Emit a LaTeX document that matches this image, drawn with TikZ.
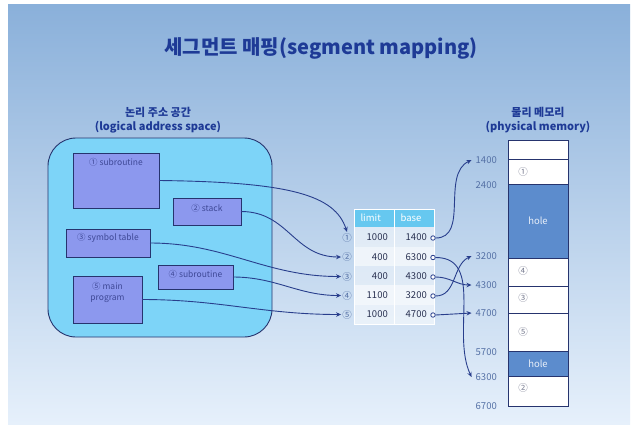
\documentclass[tikz,border=0pt]{standalone}
\usepackage{fontspec}
\setmainfont{Noto Sans CJK KR}
\usetikzlibrary{arrows.meta}

\definecolor{titleblue}{RGB}{30,58,150}
\definecolor{slidetop}{RGB}{138,176,218}
\definecolor{slidebot}{RGB}{230,240,251}
\definecolor{spacefill}{RGB}{125,212,248}
\definecolor{segfill}{RGB}{140,152,238}
\definecolor{segtextc}{RGB}{62,72,150}
\definecolor{navy}{RGB}{38,52,110}
\definecolor{linkblue}{RGB}{40,62,140}
\definecolor{headfill}{RGB}{102,200,240}
\definecolor{holefill}{RGB}{92,140,205}
\definecolor{addrgray}{RGB}{84,112,165}
\definecolor{tabtext}{RGB}{40,48,80}
\definecolor{cellnum}{RGB}{120,124,145}

\tikzset{
  segbox/.style={draw=navy, fill=segfill, line width=0.8pt, outer sep=0pt, inner sep=0pt},
  segtext/.style={text=segtextc, font=\fontsize{8.5}{11}\selectfont, align=center, inner sep=0pt},
  link/.style={draw=linkblue, line width=0.9pt, -{Stealth[length=5pt,width=4.5pt]}},
  numtext/.style={text=tabtext, font=\fontsize{9.5}{10}\selectfont, inner sep=0pt, anchor=east},
  rowlabel/.style={text=addrgray, font=\fontsize{9.5}{10}\selectfont, inner sep=1pt},
  headtext/.style={text=white, font=\fontsize{9.5}{10}\selectfont},
  addr/.style={text=addrgray, font=\fontsize{9.5}{10}\selectfont, anchor=east, inner sep=4pt},
  basedot/.style={circle, draw=linkblue, fill=white, line width=0.8pt, inner sep=0pt, minimum size=4.5pt},
  memcell/.style={draw=navy, fill=white, line width=0.8pt},
  memhole/.style={draw=navy, fill=holefill, line width=0.8pt},
  cellno/.style={text=cellnum, font=\fontsize{9.5}{10}\selectfont},
  holetext/.style={text=white!85!holefill, font=\fontsize{9.5}{10}\selectfont},
  heading/.style={text=titleblue, font=\bfseries\fontsize{11}{14}\selectfont, align=center}
}

\begin{document}
\begin{tikzpicture}[x=1pt, y=-1pt]
  \useasboundingbox (0,0) rectangle (640,424);
  \fill[white] (0,0) rectangle (640,424);
  \shade[top color=slidetop, bottom color=slidebot] (8,4) rectangle (630,424);

  % titles
  \node[text=titleblue, font=\bfseries\fontsize{20}{24}\selectfont] (title) at (321,48) {세그먼트 매핑(segment mapping)};
  \node[heading] (lhead) at (158,120) {논리 주소 공간\\(logical address space)};
  \node[heading] (phead) at (538,120) {물리 메모리\\(physical memory)};

  % logical address space
  \draw[draw=navy, fill=spacefill, line width=0.9pt, rounded corners=28pt] (48,138) rectangle (272,337);
  \node[segbox, minimum width=86pt, minimum height=55pt] (seg1) at (116,180.5) {};
  \node[segtext] at (116,162) {① subroutine};
  \node[segbox, minimum width=68pt, minimum height=27pt] (seg2) at (207,211.5) {};
  \node[segtext] at (207,208) {② stack};
  \node[segbox, minimum width=84pt, minimum height=28pt] (seg3) at (108,243) {};
  \node[segtext] at (108,238) {③ symbol table};
  \node[segbox, minimum width=75pt, minimum height=24pt] (seg4) at (195.5,277) {};
  \node[segtext] at (195.5,274) {④ subroutine};
  \node[segbox, minimum width=69pt, minimum height=47pt] (seg5) at (107.5,299.5) {};
  \node[segtext] at (107.5,292) {⑤ main\\program};

  % segment table
  \fill[headfill] (354,209) rectangle (434,227);
  \fill[white, opacity=0.55] (354,227) rectangle (434,247);
  \fill[white, opacity=0.75] (354,247) rectangle (434,266);
  \fill[white, opacity=0.45] (354,266) rectangle (434,285);
  \fill[white, opacity=0.75] (354,285) rectangle (434,305);
  \fill[white, opacity=0.55] (354,305) rectangle (434,324);
  \draw[white, line width=0.8pt] (354,209) rectangle (434,324) (394,209) -- (394,324);
  \node[headtext, anchor=west] (hlimit) at (357,218) {limit};
  \node[headtext, anchor=west] (hbase) at (397,218) {base};

  \node[rowlabel] (l1) at (347,237.5) {①};
  \node[rowlabel] (l2) at (347,257) {②};
  \node[rowlabel] (l3) at (347,276.5) {③};
  \node[rowlabel] (l4) at (347,295.5) {④};
  \node[rowlabel] (l5) at (347,314.5) {⑤};

  \node[numtext] (lim1) at (388,237.5) {1000};
  \node[numtext] (lim2) at (388,257) {400};
  \node[numtext] (lim3) at (388,276.5) {400};
  \node[numtext] (lim4) at (388,295.5) {1100};
  \node[numtext] (lim5) at (388,314.5) {1000};
  \node[numtext] (base1) at (427,237.5) {1400};
  \node[numtext] (base2) at (427,257) {6300};
  \node[numtext] (base3) at (427,276.5) {4300};
  \node[numtext] (base4) at (427,295.5) {3200};
  \node[numtext] (base5) at (427,314.5) {4700};
  \node[basedot] (p1) at (433,238) {};
  \node[basedot] (p2) at (433,257.5) {};
  \node[basedot] (p3) at (433,277) {};
  \node[basedot] (p4) at (433,296) {};
  \node[basedot] (p5) at (433,315) {};

  % physical memory
  \draw[memcell] (508,140) rectangle (568,159);
  \draw[memcell] (508,159) rectangle (568,184);
  \draw[memhole] (508,184) rectangle (568,258);
  \draw[memcell] (508,258) rectangle (568,286);
  \draw[memcell] (508,286) rectangle (568,313);
  \draw[memcell] (508,313) rectangle (568,351);
  \draw[memhole] (508,351) rectangle (568,376);
  \draw[memcell] (508,376) rectangle (568,406);
  \node[cellno] at (523,172) {①};
  \node[holetext] at (538,221) {hole};
  \node[cellno] at (523,271) {④};
  \node[cellno] at (523,298) {③};
  \node[cellno] at (523,332) {⑤};
  \node[holetext] at (538,364) {hole};
  \node[cellno] at (523,388) {②};

  \node[addr] (a1400) at (501,160) {1400};
  \node[addr] (a2400) at (501,185) {2400};
  \node[addr] (a3200) at (501,256) {3200};
  \node[addr] (a4300) at (501,285) {4300};
  \node[addr] (a4700) at (501,313) {4700};
  \node[addr] (a5700) at (501,352) {5700};
  \node[addr] (a6300) at (501,377) {6300};
  \node[addr] (a6700) at (501,406) {6700};

  % segment -> table
  \draw[link] (seg1.east) .. controls (290,182) and (335,195) .. (l1.north);
  \draw[link] (seg2.east) to[out=0, in=180, looseness=1.1] (l2.west);
  \draw[link] (seg3.east) to[out=0, in=180] (l3.west);
  \draw[link] (seg4.east) to[out=0, in=180] (l4.west);
  \draw[link] (seg5.east) to[out=0, in=180] (l5.west);

  % table -> memory
  \draw[link] (p1.east) to[out=0, in=205] (a1400.west);
  \draw[link] (p2.east) to[out=0, in=115] (a6300.west);
  \draw[link] (p3.east) to[out=0, in=180] (a4300.west);
  \draw[link] (p4.east) to[out=0, in=205] (a3200.west);
  \draw[link] (p5.east) -- (a4700.west);
\end{tikzpicture}
\end{document}
